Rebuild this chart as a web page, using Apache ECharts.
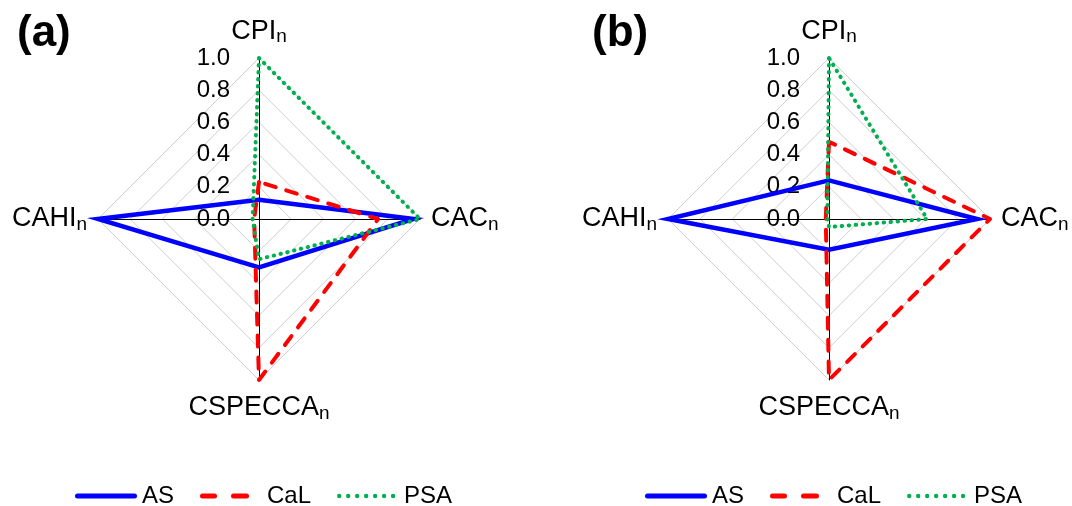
<!DOCTYPE html>
<html>
<head>
<meta charset="utf-8">
<script src="https://cdn.jsdelivr.net/npm/echarts@6/dist/echarts.min.js"></script>
<style>
  html, body { margin: 0; padding: 0; background: #ffffff; }
  #chart { width: 1072px; height: 506px; }
</style>
</head>
<body>
<div id="chart"></div>
<script>
// Radar axes, listed in the order ECharts lays them out (top first, then counter-clockwise)
const axisNames = ['CPI', 'CAHI', 'CSPECCA', 'CAC'];
const tickLabels = ['0.0', '0.2', '0.4', '0.6', '0.8', '1.0'];
const seriesNames = ['AS', 'CaL', 'PSA'];
const panelTitles = ['(a)', '(b)'];

// Panel (a) normalised scores, same order as axisNames
const a_AS  = [0.12, 1.00, 0.30, 0.96];
const a_CaL = [0.23, 0.03, 1.00, 0.74];
const a_PSA = [1.00, 0.04, 0.25, 1.00];

// Panel (b) normalised scores
const b_AS  = [0.24, 1.00, 0.19, 0.92];
const b_CaL = [0.48, 0.02, 1.00, 1.00];
const b_PSA = [1.00, 0.01, 0.05, 0.61];

const panels = [[a_AS, a_CaL, a_PSA], [b_AS, b_CaL, b_PSA]];

const FONT = '"Liberation Sans", Arial, sans-serif';
const colors = ['#0000ff', '#ff0000', '#00b050'];
const lineStyles = [
  { color: colors[0], width: 4.5, type: 'solid', cap: 'round', join: 'miter' },
  { color: colors[1], width: 4, type: [11, 11], cap: 'round', join: 'round' },
  { color: colors[2], width: 4, type: [0.5, 6.5], cap: 'round', join: 'round' }
];

// Legend glyphs drawn in a 62 x 5 box: solid bar, two dashes, row of dots.
// A hair-thin tick at x = 62 pins the glyph's bounding box to the full width.
function dot(cx) {
  const r = 2.2;
  return 'M' + (cx - r) + ',2.5A' + r + ',' + r + ',0,1,0,' + (cx + r) + ',2.5A' + r + ',' + r + ',0,1,0,' + (cx - r) + ',2.5Z';
}
function dash(x0, x1) {
  return 'M' + (x0 + 2.5) + ',0H' + (x1 - 2.5) + 'A2.5,2.5,0,0,1,' + (x1 - 2.5) + ',5H' + (x0 + 2.5) + 'A2.5,2.5,0,0,1,' + (x0 + 2.5) + ',0Z';
}
const edgePin = 'M61.95,0H62V5H61.95Z';
const legendIcons = [
  'path://' + dash(0, 62),
  'path://' + dash(0, 17) + dash(31, 49) + edgePin,
  'path://' + [2, 11, 20, 29, 38, 47, 56].map(dot).join('') + edgePin + 'M0,0H0.05V5H0Z'
];

// gap between each axis end and its name (top, left, bottom, right)
const nameGaps = [9, 11, 13, 11];

const centersX = [259, 829];

function radarOf(cx) {
  return {
    center: [cx, 219],
    radius: 161,
    startAngle: 90,
    shape: 'polygon',
    splitNumber: 5,
    indicator: axisNames.map((n, i) => {
      const ind = { name: n, min: 0, max: 1, nameGap: nameGaps[i] };
      if (i !== 0) ind.axisLabel = { show: false };
      return ind;
    }),
    nameGap: 11,
    axisName: {
      formatter: (n) => '{m|' + n + '}{s|n}',
      color: '#000',
      rich: {
        m: { fontSize: 27, fontFamily: FONT, color: '#000', lineHeight: 30 },
        s: { fontSize: 19, fontFamily: FONT, color: '#000', lineHeight: 6, verticalAlign: 'bottom' }
      }
    },
    axisLine: { show: true, lineStyle: { color: '#000', width: 1 } },
    axisTick: { show: false },
    splitLine: { show: true, lineStyle: { color: '#cfcfcf', width: 1 } },
    splitArea: { show: false },
    axisLabel: {
      show: true,
      margin: 29,
      color: '#000',
      fontSize: 24,
      fontFamily: FONT,
      formatter: (v) => tickLabels[Math.round(v / 0.2)] || ''
    }
  };
}

const chart = echarts.init(document.getElementById('chart'), null, { renderer: 'canvas' });

chart.setOption({
  backgroundColor: '#ffffff',
  animation: false,
  textStyle: { fontFamily: FONT },
  radar: centersX.map(radarOf),
  legend: centersX.map((cx, p) => ({
    left: p === 0 ? 75 : 645,
    top: 484,
    padding: 0,
    orient: 'horizontal',
    itemWidth: 62,
    itemHeight: 5,
    itemGap: 26,
    selectedMode: false,
    textStyle: { fontSize: 24, color: '#000', fontFamily: FONT },
    data: seriesNames.map((n, k) => ({ name: n, icon: legendIcons[k] }))
  })),
  graphic: panelTitles.map((t, p) => ({
    type: 'text',
    left: p === 0 ? 17 : 592,
    top: 12,
    style: { text: t, font: 'bold 44px ' + FONT, fill: '#000' }
  })),
  series: panels.map((vals, p) => ({
    type: 'radar',
    radarIndex: p,
    symbol: 'none',
    data: seriesNames.map((n, k) => ({
      name: n,
      value: vals[k],
      lineStyle: lineStyles[k],
      itemStyle: { color: colors[k] }
    }))
  }))
});
</script>
</body>
</html>
